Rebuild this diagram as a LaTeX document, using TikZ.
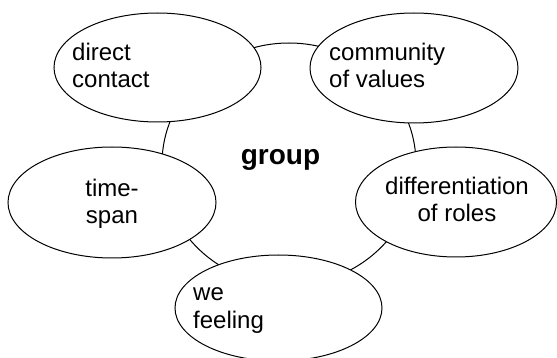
\documentclass[tikz,border=0pt]{standalone}
\usepackage{fontspec}
\setmainfont{Liberation Sans}
\usetikzlibrary{shapes.geometric}
\tikzset{
  ell/.style={ellipse, draw, fill=white, line width=1pt, inner sep=0pt},
  lbl/.style={inner sep=0pt, font=\fontsize{24}{27.5}\selectfont},
}
\begin{document}
\begin{tikzpicture}[x=1pt,y=-1pt]
\useasboundingbox (0,0) rectangle (557,358);
\node[ellipse, draw, line width=1pt, inner sep=0pt, minimum width=254pt, minimum height=242pt] (big) at (289,164) {};
\node[ell, minimum width=207pt, minimum height=109pt] (e1) at (157.5,67.5) {};
\node[ell, minimum width=208pt, minimum height=110pt] (e2) at (414,68) {};
\node[ell, minimum width=201pt, minimum height=110pt] (e3) at (456,202) {};
\node[ell, minimum width=208pt, minimum height=111pt] (e4) at (112,202.5) {};
\node[ell, minimum width=207pt, minimum height=106pt] (e5) at (278.5,308) {};
\node[lbl, align=left, anchor=base west] (t1) at (72,88) {direct\\contact};
\node[lbl, align=left, anchor=base west] (t2) at (329,88) {community\\of values};
\node[lbl, align=center, anchor=base] (t3) at (457,222) {differentiation\\of roles};
\node[lbl, align=center, anchor=base] (t4) at (112,224) {time-\\span};
\node[lbl, align=left, anchor=base west] (t5) at (193,328) {we\\feeling};
\node[inner sep=0pt, font=\fontsize{28}{32}\selectfont\bfseries, anchor=base] (g) at (280.5,165) {group};
\end{tikzpicture}
\end{document}
